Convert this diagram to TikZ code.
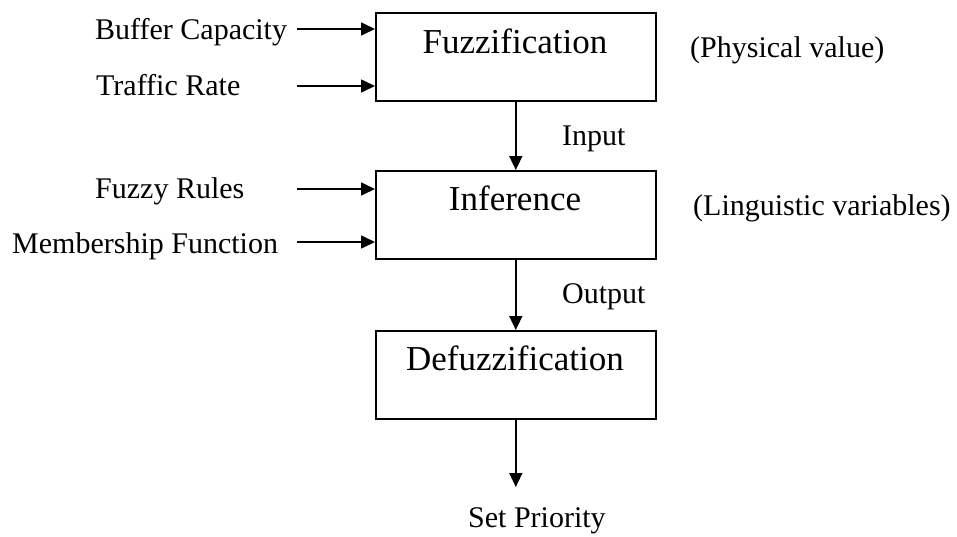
\documentclass[tikz,border=0pt]{standalone}
\usepackage{fontspec}
\setmainfont{Liberation Serif}
\usetikzlibrary{arrows.meta}
\begin{document}
\begin{tikzpicture}[x=1pt,y=-1pt,
  blockbox/.style={draw,line width=1.6pt,minimum width=280pt,minimum height=88pt,anchor=north west},
  boxtext/.style={font=\fontsize{35}{40}\selectfont,anchor=base},
  lbl/.style={font=\fontsize{30}{36}\selectfont,anchor=base west,inner sep=0pt},
  conn/.style={line width=1.6pt,-{Triangle[length=14pt,width=13pt]}}]
\useasboundingbox (0,0) rectangle (957,536);
% boxes
\node[blockbox] (fuz) at (375,12) {};
\node[blockbox] (inf) at (375,170) {};
\node[blockbox] (def) at (375,330) {};
\node[boxtext] (tfuz) at (515,53) {Fuzzification};
\node[boxtext] (tinf) at (515,210) {Inference};
\node[boxtext] (tdef) at (515,370) {Defuzzification};
% left labels
\node[lbl] (buf) at (95,39) {Buffer Capacity};
\node[lbl] (traf) at (96,95) {Traffic Rate};
\node[lbl] (rules) at (95,198) {Fuzzy Rules};
\node[lbl] (memb) at (12,253) {Membership Function};
\coordinate (a1) at (297,29);
\coordinate (a2) at (297,86);
\coordinate (a3) at (297,189);
\coordinate (a4) at (297,242);
\draw[conn] (a1) -- (a1 -| fuz.west);
\draw[conn] (a2) -- (a2 -| fuz.west);
\draw[conn] (a3) -- (a3 -| inf.west);
\draw[conn] (a4) -- (a4 -| inf.west);
% right labels
\node[lbl] (phys) at (690,57) {(Physical value)};
\node[lbl] (ling) at (693,215) {(Linguistic variables)};
% vertical connectors
\draw[conn] (fuz.south) -- (inf.north);
\draw[conn] (inf.south) -- (def.north);
\coordinate (outend) at (515,487);
\draw[conn] (def.south) -- (def.south |- outend);
\node[lbl] (inp) at (562,145) {Input};
\node[lbl] (outp) at (562,303) {Output};
\node[lbl] (prio) at (468,527) {Set Priority};
\end{tikzpicture}
\end{document}
